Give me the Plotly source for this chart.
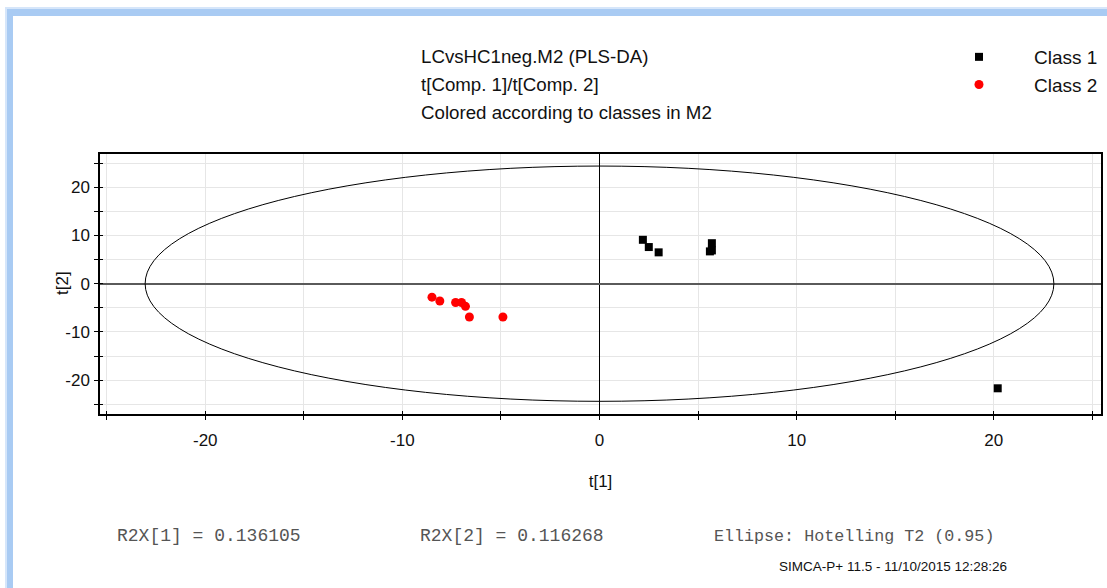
import plotly.graph_objects as go

# PLS-DA score coordinates t[1], t[2] per class
class1_t1 = [2.2, 2.5, 3.0, 5.7, 5.6, 5.7, 20.2]
class1_t2 = [9.1, 7.6, 6.5, 8.4, 6.7, 6.9, -21.7]
class2_t1 = [-8.5, -8.1, -7.3, -7.0, -6.8, -6.6, -4.9]
class2_t2 = [-2.8, -3.6, -3.9, -3.9, -4.7, -6.9, -6.9]

# Hotelling T2 (0.95) ellipse semi-axes
ellipse_t1 = 23.05
ellipse_t2 = 24.4

x_range = [-25.34, 25.44]
y_range = [-27.03, 26.9]
major_vals = [-20, -10, 0, 10, 20]
major_text = ["-20", "-10", "0", "10", "20"]

title_lines = [
    "LCvsHC1neg.M2 (PLS-DA)",
    "t[Comp. 1]/t[Comp. 2]",
    "Colored according to classes in M2",
]
footer_stats = ["R2X[1] = 0.136105", "R2X[2] = 0.116268", "Ellipse: Hotelling T2 (0.95)"]
footer_stats_x = [115, 418, 712]
footer_stats_size = [18, 18, 16.7]
stamp = "SIMCA-P+ 11.5 - 11/10/2015 12:28:26"

W, H = 1107, 588
FONT = "Liberation Sans, Arial, sans-serif"


def px(x):
    return x / W


def py(y):
    return 1 - y / H


fig = go.Figure()

fig.add_trace(go.Scatter(
    x=class1_t1, y=class1_t2, mode="markers", name="Class 1",
    marker=dict(symbol="square", size=8, color="black", line=dict(width=0)),
))
fig.add_trace(go.Scatter(
    x=class2_t1, y=class2_t2, mode="markers", name="Class 2",
    marker=dict(symbol="circle", size=9, color="#ff0000", line=dict(width=0)),
))

# confidence ellipse
fig.add_shape(type="circle", xref="x", yref="y",
              x0=-ellipse_t1, x1=ellipse_t1, y0=-ellipse_t2, y1=ellipse_t2,
              line=dict(color="black", width=1), layer="above")

axis_common = dict(
    showline=True, linecolor="black", linewidth=1.5, mirror=True,
    ticks="outside", ticklen=4, tickcolor="black", tickwidth=1,
    tickfont=dict(family=FONT, size=17, color="#111"),
    showgrid=True, gridcolor="#e6e6e6", gridwidth=1,
    minor=dict(dtick=5, tick0=0, ticks="outside", ticklen=4, tickcolor="black",
               showgrid=True, gridcolor="#e6e6e6"),
    tickmode="array", tickvals=major_vals, ticktext=major_text,
)

fig.update_layout(
    width=W, height=H,
    margin=dict(l=0, r=0, t=0, b=0),
    paper_bgcolor="white", plot_bgcolor="white",
    font=dict(family=FONT, color="#111"),
    xaxis=dict(
        domain=[px(100), px(1101)], range=x_range, **axis_common,
        zeroline=True, zerolinecolor="black", zerolinewidth=1,
        ticklabelstandoff=6,
        title=dict(text="t[1]", font=dict(family=FONT, size=17, color="#111"), standoff=26),
    ),
    yaxis=dict(
        domain=[py(414), py(154)], range=y_range, **axis_common,
        zeroline=True, zerolinecolor="#5a5a5a", zerolinewidth=2,
        ticklabelstandoff=1,
    ),
    # inner halves of the tick marks so they cross the frame line
    xaxis2=dict(domain=[px(100), px(1101)], range=x_range, overlaying="x", anchor="y",
                showline=False, showgrid=False, zeroline=False, showticklabels=False,
                ticks="inside", ticklen=3, tickcolor="black", tickvals=major_vals,
                minor=dict(dtick=5, tick0=0, ticks="inside", ticklen=3, tickcolor="black")),
    yaxis2=dict(domain=[py(414), py(154)], range=y_range, overlaying="y", anchor="x",
                showline=False, showgrid=False, zeroline=False, showticklabels=False,
                ticks="inside", ticklen=3, tickcolor="black", tickvals=major_vals,
                minor=dict(dtick=5, tick0=0, ticks="inside", ticklen=3, tickcolor="black")),
    showlegend=True,
    legend=dict(x=px(924), y=py(38), xanchor="left", yanchor="top",
                font=dict(family=FONT, size=19, color="#111"),
                bgcolor="rgba(0,0,0,0)", itemwidth=100, tracegroupgap=0),
)

# dummy hidden trace to keep the overlay axes alive
fig.add_trace(go.Scatter(x=[None], y=[None], xaxis="x2", yaxis="y2",
                         showlegend=False, hoverinfo="skip"))

# y axis title, placed close to the tick labels
fig.add_annotation(text="t[2]", xref="paper", yref="paper", x=px(62), y=py(283),
                   xanchor="center", yanchor="middle", textangle=-90, showarrow=False,
                   font=dict(family=FONT, size=17, color="#111"))

# window frame
fig.add_shape(type="rect", xref="paper", yref="paper", x0=px(5), x1=px(14),
              y0=0, y1=py(7), fillcolor="#d6e6fa", line=dict(width=0), layer="below")
fig.add_shape(type="rect", xref="paper", yref="paper", x0=px(5), x1=1,
              y0=py(17), y1=py(7), fillcolor="#d6e6fa", line=dict(width=0), layer="below")
fig.add_shape(type="rect", xref="paper", yref="paper", x0=px(7), x1=px(13),
              y0=0, y1=py(9), fillcolor="#a9cbf3", line=dict(width=0), layer="below")
fig.add_shape(type="rect", xref="paper", yref="paper", x0=px(7), x1=1,
              y0=py(16), y1=py(9), fillcolor="#a9cbf3", line=dict(width=0), layer="below")
fig.add_shape(type="rect", xref="paper", yref="paper", x0=px(13), x1=1,
              y0=0, y1=py(16), fillcolor="white", line=dict(width=0), layer="below")

for i, line in enumerate(title_lines):
    fig.add_annotation(text=line, xref="paper", yref="paper",
                       x=px(419), y=py(57 + 27.5 * i), xanchor="left", yanchor="middle",
                       showarrow=False, font=dict(family=FONT, size=18.7, color="#111"))

for txt, xp, fs in zip(footer_stats, footer_stats_x, footer_stats_size):
    fig.add_annotation(text=txt, xref="paper", yref="paper",
                       x=px(xp), y=py(536), xanchor="left", yanchor="middle",
                       showarrow=False,
                       font=dict(family="Liberation Mono, Courier New, monospace",
                                 size=fs, color="#555"))

fig.add_annotation(text=stamp, xref="paper", yref="paper",
                   x=px(777), y=py(566), xanchor="left", yanchor="middle",
                   showarrow=False,
                   font=dict(family="Liberation Sans Narrow, Arial Narrow, Liberation Sans",
                             size=13.5, color="#111"))

fig.write_html("out.html")
